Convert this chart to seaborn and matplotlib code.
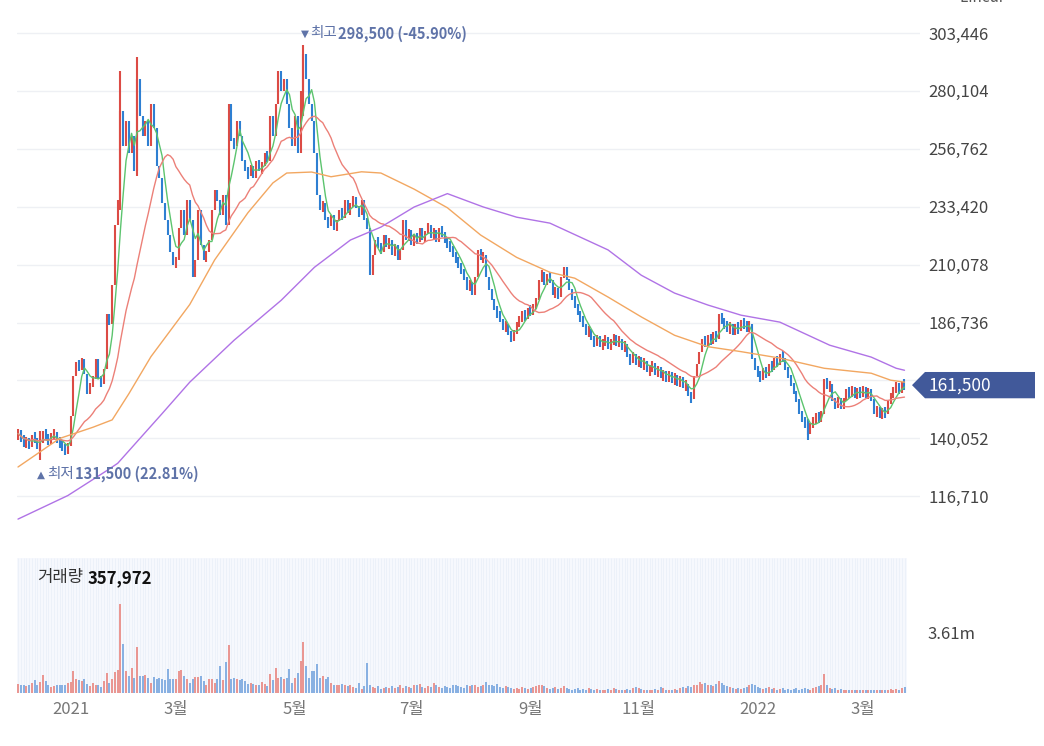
import numpy as np
import pandas as pd
import matplotlib
matplotlib.use("Agg")
import matplotlib.pyplot as plt
import matplotlib.transforms as mtransforms
from matplotlib.patches import Polygon
import seaborn as sns

# daily closes in thousand won (Dec 2020 - Mar 2022)
closes_k = [
    142, 140, 138, 139, 137, 141, 140, 136, 138, 143,
    140, 139, 141, 142, 139, 138, 136, 135, 137, 149,
    165, 171, 168, 172, 166, 158, 162, 164, 172, 164,
    162, 168, 190, 186, 202, 226, 236, 272, 258, 268,
    255, 262, 248, 285, 270, 262, 268, 258, 275, 265,
    250, 245, 235, 228, 222, 215, 210, 212, 225, 232,
    222, 236, 228, 205, 212, 232, 218, 212, 215, 220,
    232, 240, 236, 230, 238, 226, 275, 260, 258, 268,
    262, 252, 248, 246, 250, 245, 252, 248, 250, 255,
    252, 270, 262, 275, 288, 280, 285, 275, 265, 258,
    270, 255, 280, 295, 285, 275, 268, 255, 238, 232,
    235, 228, 226, 230, 224, 228, 232, 229, 236, 231,
    234, 237, 233, 230, 236, 228, 225, 206, 214, 220,
    218, 215, 222, 217, 220, 214, 218, 212, 216, 228,
    220, 224, 218, 222, 219, 225, 220, 223, 226, 221,
    224, 219, 225, 222, 220, 218, 217, 214, 212, 210,
    207, 205, 200, 203, 198, 205, 216, 212, 214, 205,
    200, 196, 192, 190, 188, 184, 186, 182, 180, 183,
    186, 188, 190, 189, 192, 191, 193, 196, 204, 207,
    202, 206, 204, 198, 200, 197, 205, 209, 204, 200,
    196, 194, 190, 188, 186, 182, 184, 180, 178, 181,
    177, 179, 180, 177, 179, 181, 178, 180, 176, 178,
    173, 171, 174, 170, 172, 169, 171, 167, 168, 170,
    166, 168, 165, 166, 164, 166, 163, 165, 162, 164,
    161, 162, 157, 156, 165, 170, 175, 180, 178, 181,
    179, 182, 180, 190, 187, 186, 184, 185, 183, 185,
    184, 187, 186, 184, 186, 172, 168, 166, 164, 168,
    165, 170, 168, 172, 170, 174, 172, 168, 165, 162,
    158, 156, 150, 148, 145, 142, 146, 147, 149, 148,
    150, 164, 160, 162, 155, 153, 156, 152, 156, 159,
    158, 160, 157, 159, 158, 160, 157, 159, 156, 150,
    152, 149, 151, 150, 155, 157, 160, 161, 159, 162,
    161.5,
]
first_open = 141000

# daily volume in millions of shares
volume_m = [
    .55, .45, .45, .4, .45, .6, .75, .45, .65, 1.05,
    .7, .5, .35, .4, .45, .45, .45, .5, .6, .65,
    1.3, .8, .75, .7, .8, .55, .4, .6, .45, .5,
    .35, .7, 1.2, .6, .85, 1.25, 1.35, 5.27, 2.9, 1.3,
    1.0, 1.5, .9, 2.7, 1.0, 1.0, 1.05, .9, .6, .95,
    .8, .9, .85, .75, 1.4, .8, .85, .8, 1.3, 1.35,
    1.0, .8, .6, .85, .95, .95, 1.0, .7, .5, .85,
    .85, .6, .85, 1.6, .75, 1.85, 2.85, .8, .9, .85,
    .75, .85, .7, .55, .6, .55, .5, .45, .65, .55,
    .4, 1.1, .75, 1.5, .9, .95, .8, .9, 1.4, .6,
    .9, 1.2, 1.9, 3.0, 1.6, .9, 1.3, 1.3, 1.7, .9,
    1.0, .8, .95, .6, .5, .45, .5, .55, .45, .4,
    .5, .35, .3, .6, .25, .4, 1.8, .5, .35, .3,
    .4, .25, .3, .35, .3, .4, .3, .35, .45, .3,
    .4, .35, .3, .45, .5, .55, .35, .3, .4, .35,
    .6, .45, .35, .3, .4, .35, .3, .45, .5, .4,
    .35, .3, .45, .4, .5, .45, .35, .4, .5, .65,
    .45, .5, .4, .55, .35, .3, .4, .35, .3, .25,
    .3, .25, .35, .3, .25, .3, .35, .4, .5, .45,
    .4, .3, .25, .3, .35, .25, .3, .4, .3, .25,
    .2, .25, .3, .2, .25, .2, .3, .25, .2, .25,
    .2, .15, .2, .25, .2, .3, .25, .2, .15, .2,
    .25, .2, .3, .35, .3, .25, .2, .2, .15, .2,
    .25, .2, .35, .3, .2, .15, .2, .25, .2, .3,
    .35, .3, .4, .35, .5, .45, .65, .55, .6, .5,
    .45, .4, .55, .7, .6, .45, .4, .35, .3, .25,
    .3, .25, .3, .35, .5, .55, .45, .35, .3, .25,
    .3, .35, .25, .3, .2, .25, .3, .2, .25, .2,
    .25, .3, .2, .25, .3, .25, .2, .3, .35, .4,
    .45, 1.13, .45, .3, .25, .3, .2, .25, .2, .15,
    .2, .15, .2, .18, .15, .2, .15, .18, .2, .15,
    .18, .2, .15, .2, .18, .22, .2, .25, .2, .3,
    .357972,
]

# long wicks on a few days
wick_days = [8, 37, 43, 103, 285]
wick_lo = [131500, 232000, 246000, 270000, 139500]
wick_hi = [143000, 288000, 293700, 298500, 148000]

# 60-day and 120-day averages (thousand won)
ma60_days = [0, 15, 27, 34, 40, 48, 62, 71, 83, 92, 97, 106, 113, 124, 131, 143,
             155, 167, 180, 192, 201, 213, 225, 237, 249, 261, 275, 291, 308, 315, 320]
ma60_k = [128.5, 140, 144.5, 147.5, 158, 173, 194, 212, 231, 243, 247, 247.4, 245.5,
          247.5, 247, 240.5, 233, 222, 213, 207, 204.6, 197, 189, 181.6, 177, 175,
          172.4, 168.3, 166.3, 163.5, 162.7]
ma120_days = [0, 18, 32, 36, 52, 62, 78, 95, 107, 120, 131, 143, 155, 168, 180, 192,
              213, 225, 237, 249, 261, 275, 293, 308, 317, 320]
ma120_k = [107.5, 117, 127, 130, 150, 162.7, 179.6, 195.7, 209, 220, 225.2, 233.3,
           238.7, 233.3, 229.2, 226.8, 216, 205.8, 198.6, 193.8, 189.7, 186.9, 177.6,
           172.8, 168.3, 167.5]

price_ticks = [116710, 140052, 163394, 186736, 210078, 233420, 256762, 280104, 303446]
month_days = [19, 57, 100, 142, 185, 224, 267, 305]
month_labels = ["2021", "3월", "5월", "7월", "9월", "11월", "2022", "3월"]

sns.set_theme(style="white")
plt.rcParams["font.family"] = ["Noto Sans CJK KR", "DejaVu Sans"]

df = pd.DataFrame({"day": np.arange(len(closes_k)),
                   "close": np.array(closes_k) * 1000,
                   "volume": np.array(volume_m) * 1e6})
df["open"] = df["close"].shift(1).fillna(first_open)
df["up"] = df["close"] >= df["open"]
df["ma5"] = df["close"].rolling(5, min_periods=1).mean()
df["ma20"] = df["close"].rolling(20, min_periods=1).mean()

RED, BLUE = "#dc4b45", "#2e7fd2"
VRED, VBLUE = "#e98d88", "#7eaae0"

fig = plt.figure(figsize=(10.44, 7.46), dpi=100)
ax = fig.add_axes([17 / 1044, 1 - 540 / 746, 903 / 1044, 540 / 746])
vax = fig.add_axes([17 / 1044, 1 - 693 / 746, 890 / 1044, 135 / 746])

# candles (bars get a minimum visible length)
lo = np.minimum(df["open"], df["close"])
hi = np.maximum(df["open"], df["close"])
pad = np.maximum(0, 4500 - (hi - lo)) / 2
colors = np.where(df["up"], RED, BLUE)
ax.vlines(df["day"], lo - pad, hi + pad, colors=colors, linewidth=1.5, zorder=2)
ax.vlines(wick_days, wick_lo, wick_hi, colors=colors[wick_days], linewidth=1.5, zorder=2)

# moving averages
sns.lineplot(data=df, x="day", y="ma5", ax=ax, color="#5cc46e", linewidth=1.0, zorder=3)
sns.lineplot(data=df, x="day", y="ma20", ax=ax, color="#ec8078", linewidth=1.0, zorder=3)
sns.lineplot(x=ma60_days, y=np.array(ma60_k) * 1000, ax=ax, color="#f2a761", linewidth=1.0, zorder=3)
sns.lineplot(x=ma120_days, y=np.array(ma120_k) * 1000, ax=ax, color="#b073e6", linewidth=1.0, zorder=3)

ax.set_xlim(-0.36, 325.6)
ax.set_ylim(99074, 316748)
ax.set_xticks([])
ax.set_yticks(price_ticks)
# the 163,394 label sits under the current-price tag
ax.set_yticklabels(["" if v == 163394 else f"{v:,}" for v in price_ticks])
ax.yaxis.tick_right()
ax.tick_params(axis="y", length=0, pad=6, labelsize=12, labelcolor="#444444")
ax.grid(axis="y", color="#eef0f4", linewidth=1)
ax.grid(axis="x", visible=False)
ax.set_xlabel("")
ax.set_ylabel("")
for s in ax.spines.values():
    s.set_visible(False)

# high / low markers
peak_i = int(np.argmax(wick_hi))
low_i = int(np.argmin(wick_lo))
peak, peak_day = wick_hi[peak_i], wick_days[peak_i]
trough, trough_day = wick_lo[low_i], wick_days[low_i]
last = df["close"].iloc[-1]
note_color = "#5f73a8"


def marker_note(sym, word, value, day, y, dy):
    m = ax.annotate(sym, xy=(day, y), xytext=(-2, dy), textcoords="offset points",
                    ha="left", va="center", fontsize=7.5, color=note_color,
                    family=["DejaVu Sans"])
    w = ax.annotate(word, xy=(1, 0.5), xycoords=m, xytext=(1, 0.5), textcoords="offset points",
                    ha="left", va="center", fontsize=10.5, color=note_color)
    ax.annotate(f"{value:,} ({(last / value - 1) * 100:.2f}%)", xy=(1, 0.5), xycoords=w,
                xytext=(1, 0), textcoords="offset points", ha="left", va="center",
                fontsize=10.5, fontweight="bold", color=note_color)


marker_note("▼", "최고", peak, peak_day, peak, 8)
marker_note("▲", "최저", trough, trough_day, trough, -11)

# current price tag
tr = mtransforms.blended_transform_factory(fig.transFigure, ax.transData)
h = 5300
tag = Polygon([(912 / 1044, last), (925 / 1044, last + h), (1035 / 1044, last + h),
               (1035 / 1044, last - h), (925 / 1044, last - h)],
              closed=True, transform=tr, facecolor="#41599a", edgecolor="none", zorder=5)
fig.add_artist(tag)
fig.text(929 / 1044, last, f"{last:,.0f}", transform=tr, ha="left", va="center",
         fontsize=12.5, color="white", zorder=6)

# volume
vax.set_facecolor("#f6f8fd")
vax.vlines(df["day"], 0, 8e6, colors="#e9eef8", linewidth=0.5, zorder=0)
vcol = np.where(df["up"], VRED, VBLUE)
vax.vlines(df["day"], 0, df["volume"], colors=vcol, linewidth=1.3, zorder=2)
vax.set_xlim(-0.36, 320.9)
vax.set_ylim(0, 7.99e6)
vax.set_yticks([3.61e6])
vax.set_yticklabels(["3.61m"])
vax.yaxis.tick_right()
vax.tick_params(axis="y", length=0, pad=15, labelsize=12, labelcolor="#444444")
vax.set_xticks(month_days)
vax.set_xticklabels(month_labels)
vax.tick_params(axis="x", length=0, pad=6, labelsize=12, labelcolor="#777777")
vax.grid(False)
for s in vax.spines.values():
    s.set_visible(False)
vt = vax.text(0.0225, 0.852, "거래량", transform=vax.transAxes, ha="left", va="center",
              fontsize=12, color="#333333")
vax.annotate(f"{df['volume'].iloc[-1]:,.0f}", xy=(1, 0.5), xycoords=vt, xytext=(3, 0),
             textcoords="offset points", ha="left", va="center", fontsize=12,
             fontweight="bold", color="#111111")

fig.text(960 / 1044, 1 + 3 / 746, "Linear  ˅", ha="left", va="center", fontsize=11, color="#555555")

fig.savefig("out.png", dpi=100)
